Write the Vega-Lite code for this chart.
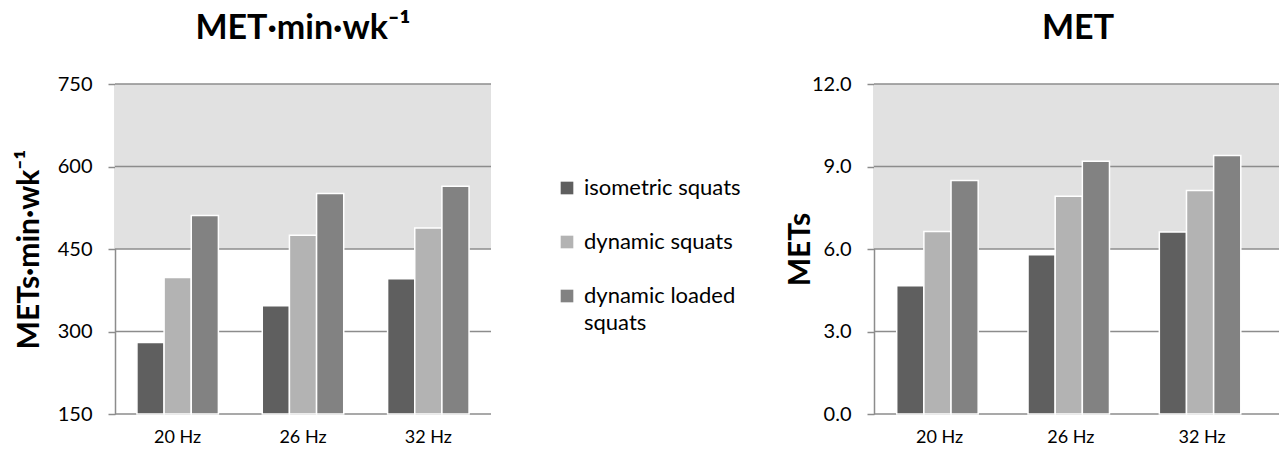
{
  "$schema": "https://vega.github.io/schema/vega-lite/v6.json",
  "padding": {"left": 14, "top": 12, "right": 0, "bottom": 0},
  "config": {
    "font": "Lato",
    "view": {"stroke": null},
    "style": {"guide-label": {"lineHeight": 27}},
    "title": {"fontSize": 34, "fontWeight": "bold", "color": "#000000", "anchor": "middle", "offset": 28},
    "axisY": {"grid": false, "domainColor": "#8c8c8c", "domainWidth": 1.5, "tickColor": "#8c8c8c", "tickWidth": 1.5, "tickSize": 7, "labelFontSize": 20, "labelColor": "#000000", "labelPadding": 16, "titleFontSize": 30, "titleFontWeight": "bold", "titleColor": "#000000"},
    "axisX": {"grid": false, "domain": false, "ticks": false, "labelAngle": 0, "labelFontSize": 18, "labelColor": "#000000", "labelPadding": 14, "title": null}
  },
  "datasets": {
    "metmin": [
      {"freq": "20 Hz", "series": "isometric squats", "value": 280},
      {"freq": "20 Hz", "series": "dynamic squats", "value": 398},
      {"freq": "20 Hz", "series": "dynamic loaded squats", "value": 511},
      {"freq": "26 Hz", "series": "isometric squats", "value": 347},
      {"freq": "26 Hz", "series": "dynamic squats", "value": 475},
      {"freq": "26 Hz", "series": "dynamic loaded squats", "value": 551},
      {"freq": "32 Hz", "series": "isometric squats", "value": 396},
      {"freq": "32 Hz", "series": "dynamic squats", "value": 488},
      {"freq": "32 Hz", "series": "dynamic loaded squats", "value": 564}
    ],
    "met": [
      {"freq": "20 Hz", "series": "isometric squats", "value": 4.66},
      {"freq": "20 Hz", "series": "dynamic squats", "value": 6.64},
      {"freq": "20 Hz", "series": "dynamic loaded squats", "value": 8.49},
      {"freq": "26 Hz", "series": "isometric squats", "value": 5.79},
      {"freq": "26 Hz", "series": "dynamic squats", "value": 7.92},
      {"freq": "26 Hz", "series": "dynamic loaded squats", "value": 9.19},
      {"freq": "32 Hz", "series": "isometric squats", "value": 6.62},
      {"freq": "32 Hz", "series": "dynamic squats", "value": 8.13},
      {"freq": "32 Hz", "series": "dynamic loaded squats", "value": 9.4}
    ],
    "bandL": [{"value": 450, "value2": 750}],
    "gridL": [{"value": 150}, {"value": 300}, {"value": 450}, {"value": 600}, {"value": 750}],
    "bandR": [{"value": 6, "value2": 12}],
    "gridR": [{"value": 0}, {"value": 3}, {"value": 6}, {"value": 9}, {"value": 12}]
  },
  "spacing": 293,
  "hconcat": [
    {
      "width": 376,
      "height": 330,
      "title": {"text": "MET·min·wk⁻¹"},
      "encoding": {
        "y": {"field": "value", "type": "quantitative",
          "scale": {"domain": [150, 750], "nice": false, "zero": false},
          "axis": {"values": [150, 300, 450, 600, 750], "title": "METs·min·wk⁻¹", "titlePadding": 13}}
      },
      "layer": [
        {"data": {"name": "bandL"}, "mark": {"type": "rect", "color": "#e1e1e1"}, "encoding": {"y2": {"field": "value2"}}},
        {"data": {"name": "gridL"}, "mark": {"type": "rule", "color": "#8c8c8c", "strokeWidth": 1.5}, "encoding": {}},
        {"data": {"name": "metmin"}, "mark": {"type": "bar", "stroke": "#ffffff", "strokeWidth": 1.5},
          "encoding": {
            "x": {"field": "freq", "type": "nominal", "scale": {"paddingInner": 0.35, "paddingOuter": 0.175}},
            "xOffset": {"field": "series", "type": "nominal", "sort": ["isometric squats", "dynamic squats", "dynamic loaded squats"], "scale": {"paddingInner": 0, "paddingOuter": 0}},
            "y2": {"datum": 150},
            "color": {"field": "series", "type": "nominal",
              "scale": {"domain": ["isometric squats", "dynamic squats", "dynamic loaded squats"], "range": ["#5f5f5f", "#b3b3b3", "#828282"]},
              "legend": {"title": null, "orient": "none", "legendX": 441, "legendY": 93, "symbolType": "square", "symbolSize": 160, "symbolStrokeWidth": 0, "labelFontSize": 22, "labelColor": "#000000", "labelOffset": 6, "rowPadding": 32, "labelLimit": 300,
                "labelExpr": "datum.label == 'dynamic loaded squats' ? ['dynamic loaded', 'squats'] : datum.label",
                "encode": {"labels": {"enter": {"lineHeight": {"value": 27}}, "update": {"lineHeight": {"value": 27}}}}}}
          }}
      ]
    },
    {
      "width": 408,
      "height": 330,
      "title": {"text": "MET"},
      "encoding": {
        "y": {"field": "value", "type": "quantitative",
          "scale": {"domain": [0, 12], "nice": false},
          "axis": {"values": [0, 3, 6, 9, 12], "format": ".1f", "title": "METs", "titlePadding": -4}}
      },
      "layer": [
        {"data": {"name": "bandR"}, "mark": {"type": "rect", "color": "#e1e1e1"}, "encoding": {"y2": {"field": "value2"}}},
        {"data": {"name": "gridR"}, "mark": {"type": "rule", "color": "#8c8c8c", "strokeWidth": 1.5}, "encoding": {}},
        {"data": {"name": "met"}, "mark": {"type": "bar", "stroke": "#ffffff", "strokeWidth": 1.5},
          "encoding": {
            "x": {"field": "freq", "type": "nominal", "scale": {"paddingInner": 0.348, "paddingOuter": 0.2276, "align": 0.38}},
            "xOffset": {"field": "series", "type": "nominal", "sort": ["isometric squats", "dynamic squats", "dynamic loaded squats"], "scale": {"paddingInner": 0, "paddingOuter": 0}},
            "y2": {"datum": 0},
            "color": {"field": "series", "type": "nominal",
              "scale": {"domain": ["isometric squats", "dynamic squats", "dynamic loaded squats"], "range": ["#5f5f5f", "#b3b3b3", "#828282"]}}
          }}
      ]
    }
  ]
}
